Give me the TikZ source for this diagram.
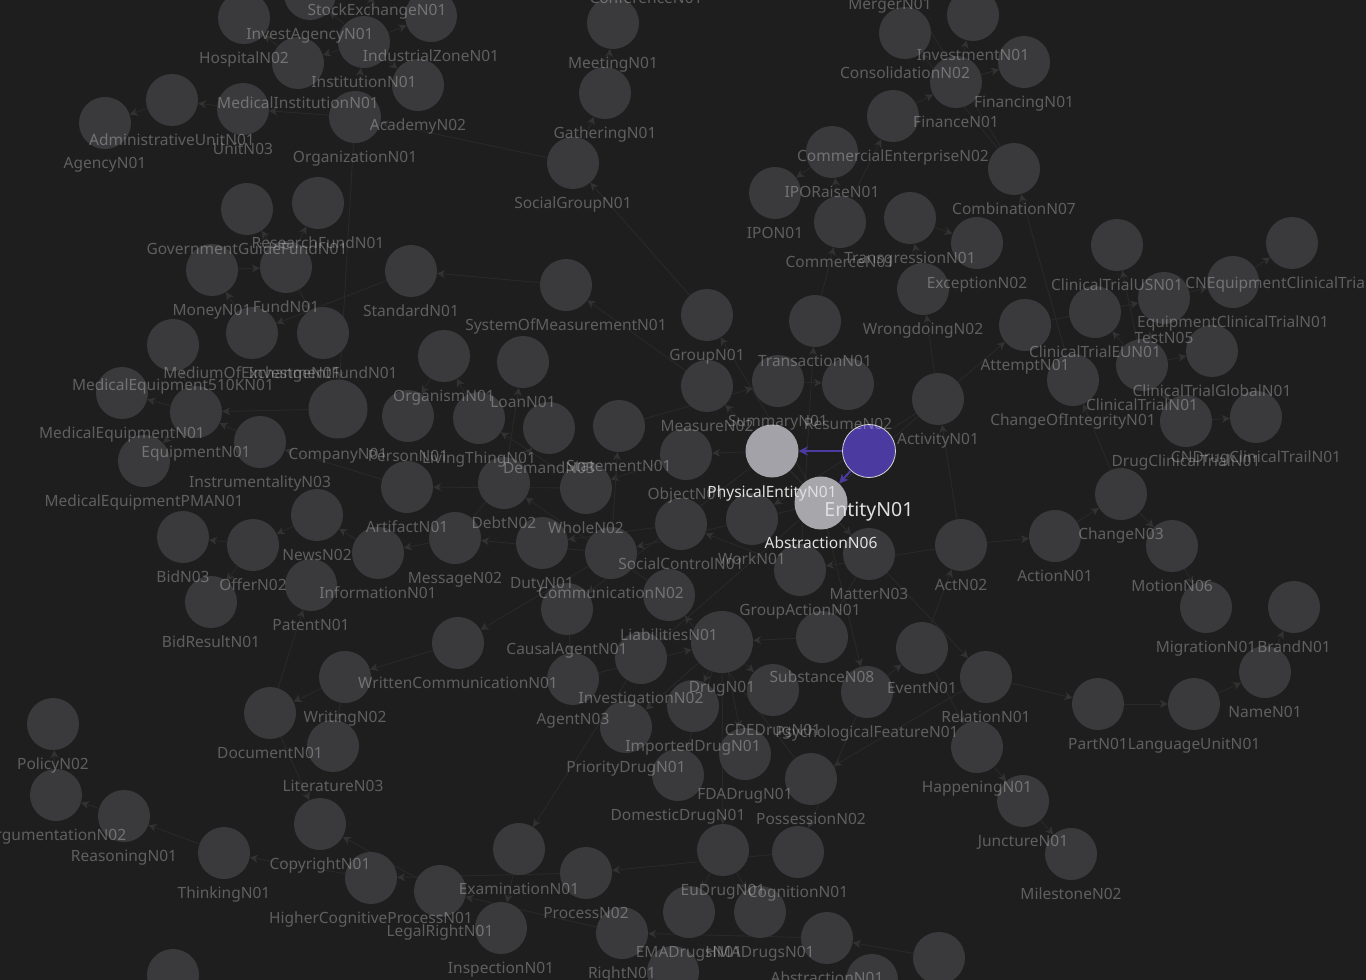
\documentclass[tikz,border=0pt]{standalone}
\usepackage{fontspec}
\setmainfont{Noto Sans}
\usetikzlibrary{arrows.meta}
\definecolor{bgdark}{HTML}{1E1E1E}
\definecolor{nodegray}{HTML}{3A3A3C}
\definecolor{edgegray}{HTML}{292929}
\definecolor{tipgray}{HTML}{323232}
\definecolor{entpurple}{HTML}{4B3A9F}
\definecolor{hilite}{HTML}{A2A2A8}
\pgfdeclarelayer{bglayer}
\pgfdeclarelayer{edgelayer}
\pgfsetlayers{bglayer,edgelayer,main}
\tikzset{
  topic/.style={circle, fill=nodegray, minimum size=52pt, inner sep=0pt},
  bigtopic/.style={topic, minimum size=62pt},
  picked/.style={circle, fill=hilite, minimum size=53pt, inner sep=0pt},
  roottopic/.style={circle, fill=entpurple, draw=white!85!black, line width=0.8pt, minimum size=53pt, inner sep=0pt},
  tagtext/.style={text=white, text opacity=0.29, font=\fontsize{15.5}{18}\selectfont, inner sep=0pt, anchor=base},
  pickedtag/.style={tagtext, text=white!88!black, text opacity=1},
  roottag/.style={pickedtag, font=\fontsize{19.5}{22}\selectfont},
  link/.style={-{Stealth[length=8pt,width=8pt,inset=2.5pt,color=tipgray]}, draw=edgegray, line width=0.9pt},
  rootlink/.style={-{Stealth[length=9pt,width=9pt,inset=2.5pt]}, draw=entpurple, line width=2pt}
}
\begin{document}
\begin{tikzpicture}[x=1pt, y=-1pt]
  \useasboundingbox (0,0) rectangle (1366,980);
  \clip (0,0) rectangle (1366,980);
  \begin{pgfonlayer}{bglayer}
    \fill[bgdark] (0,0) rectangle (1366,980);
  \end{pgfonlayer}

  % organisations, top left
  \node[topic] (HospitalN02) at (244,18) {};
  \node[topic] (InvestAgencyN01) at (310,-6) {};
  \node[topic] (StockExchangeN01) at (377,-30) {};
  \node[topic] (IndustrialZoneN01) at (431,16) {};
  \node[topic] (InstitutionN01) at (364,42) {};
  \node[topic] (MedicalInstitutionN01) at (298,63) {};
  \node[topic] (AcademyN02) at (418,85) {};
  \node[topic] (AdministrativeUnitN01) at (172,100) {};
  \node[topic] (UnitN03) at (243,109) {};
  \node[topic] (AgencyN01) at (105,123) {};
  \node[topic] (OrganizationN01) at (355,117) {};
  \node[topic] (ConferenceN01) at (646,-42) {};
  \node[topic] (MeetingN01) at (613,23) {};
  \node[topic] (GatheringN01) at (605,93) {};
  \node[topic] (SocialGroupN01) at (573,163) {};
  % finance, top right
  \node[topic] (MergerN01) at (890,-36) {};
  \node[topic] (ConsolidationN02) at (905,33) {};
  \node[topic] (InvestmentN01) at (973,15) {};
  \node[topic] (FinancingN01) at (1024,62) {};
  \node[topic] (FinanceN01) at (956,82) {};
  \node[topic] (CommercialEnterpriseN02) at (893,116) {};
  \node[topic] (IPORaiseN01) at (832,152) {};
  \node[topic] (IPON01) at (775,193) {};
  \node[topic] (CommerceN01) at (840,222) {};
  \node[topic] (CombinationN07) at (1014,169) {};
  \node[topic] (TransgressionN01) at (910,218) {};
  \node[topic] (ExceptionN02) at (977,243) {};
  \node[topic] (WrongdoingN02) at (923,289) {};
  % trials
  \node[topic] (ClinicalTrialUSN01) at (1117,245) {};
  \node[topic] (CNEquipmentClinicalTrialN01) at (1292,243) {};
  \node[topic] (EquipmentClinicalTrialN01) at (1233,282) {};
  \node[topic] (TestN05) at (1164,298) {};
  \node[topic] (ClinicalTrialEUN01) at (1095,312) {};
  \node[topic] (AttemptN01) at (1025,325) {};
  \node[topic] (ClinicalTrialGlobalN01) at (1212,351) {};
  \node[topic] (ClinicalTrialN01) at (1142,365) {};
  \node[topic] (ChangeOfIntegrityN01) at (1073,380) {};
  \node[topic] (CNDrugClinicalTrailN01) at (1256,417) {};
  \node[topic] (DrugClinicalTrialN01) at (1186,421) {};
  \node[topic] (ActivityN01) at (938,399) {};
  % acts and events, right
  \node[topic] (ChangeN03) at (1121,494) {};
  \node[topic] (ActionN01) at (1055,536) {};
  \node[topic] (ActN02) at (961,545) {};
  \node[topic] (MotionN06) at (1172,546) {};
  \node[topic] (MigrationN01) at (1206,607) {};
  \node[topic] (BrandN01) at (1294,607) {};
  \node[topic] (NameN01) at (1265,672) {};
  \node[topic] (LanguageUnitN01) at (1194,704) {};
  \node[topic] (PartN01) at (1098,704) {};
  \node[topic] (RelationN01) at (986,677) {};
  \node[topic] (HappeningN01) at (977,747) {};
  \node[topic] (JunctureN01) at (1023,801) {};
  \node[topic] (MilestoneN02) at (1071,854) {};
  \node[topic] (EventN01) at (922,648) {};
  \node[topic] (PsychologicalFeatureN01) at (867,692) {};
  \node[topic] (GroupActionN01) at (800,570) {};
  \node[topic] (MatterN03) at (869,554) {};
  % drugs, bottom centre
  \node[topic] (SubstanceN08) at (822,637) {};
  \node[topic] (CDEDrugN01) at (773,690) {};
  \node[topic] (PossessionN02) at (811,779) {};
  \node[topic] (FDADrugN01) at (745,754) {};
  \node[bigtopic] (DrugN01) at (722,642) {};
  \node[topic] (DomesticDrugN01) at (678,775) {};
  \node[topic] (ImportedDrugN01) at (693,706) {};
  \node[topic] (InvestigationN02) at (641,658) {};
  \node[topic] (PriorityDrugN01) at (626,727) {};
  \node[topic] (AgentN03) at (573,679) {};
  \node[topic] (LiabilitiesN01) at (669,595) {};
  \node[topic] (CommunicationN02) at (611,553) {};
  \node[topic] (CausalAgentN01) at (567,609) {};
  \node[topic] (WrittenCommunicationN01) at (458,643) {};
  \node[topic] (WritingN02) at (345,677) {};
  \node[topic] (DocumentN01) at (270,713) {};
  \node[topic] (LiteratureN03) at (333,746) {};
  \node[topic] (CopyrightN01) at (320,824) {};
  \node[topic] (ThinkingN01) at (224,853) {};
  \node[topic] (ReasoningN01) at (124,816) {};
  \node[topic] (ArgumentationN02) at (56,795) {};
  \node[topic] (PolicyN02) at (53,724) {};
  \node[topic] (HigherCognitiveProcessN01) at (371,878) {};
  \node[topic] (LegalRightN01) at (440,891) {};
  \node[topic] (InspectionN01) at (501,928) {};
  \node[topic] (ExaminationN01) at (519,849) {};
  \node[topic] (ProcessN02) at (586,873) {};
  \node[topic] (RightN01) at (622,933) {};
  \node[topic] (EMADrugsN01) at (689,912) {};
  \node[topic] (EuDrugN01) at (723,850) {};
  \node[topic] (HMADrugsN01) at (760,912) {};
  \node[topic] (CognitionN01) at (798,852) {};
  \node[topic] (AbstractionN01) at (827,938) {};
  \node[topic] (cutA) at (173,975) {};
  \node[topic] (cutB) at (673,972) {};
  \node[topic] (cutC) at (872,980) {};
  \node[topic] (cutD) at (939,958) {};
  % money and equipment, left
  \node[topic] (GovernmentGuideFundN01) at (247,209) {};
  \node[topic] (ResearchFundN01) at (318,203) {};
  \node[topic] (MoneyN01) at (212,270) {};
  \node[topic] (FundN01) at (286,267) {};
  \node[topic] (StandardN01) at (411,271) {};
  \node[topic] (SystemOfMeasurementN01) at (566,285) {};
  \node[topic] (GroupN01) at (707,315) {};
  \node[topic] (TransactionN01) at (815,321) {};
  \node[topic] (MedicalEquipment510KN01) at (173,345) {};
  \node[topic] (MediumOfExchangeN01) at (252,333) {};
  \node[topic] (InvestmentFundN01) at (323,333) {};
  \node[topic] (MedicalEquipmentN01) at (122,393) {};
  \node[topic] (EquipmentN01) at (196,412) {};
  \node[topic] (InstrumentalityN03) at (260,442) {};
  \node[topic] (MedicalEquipmentPMAN01) at (144,461) {};
  \node[bigtopic, minimum size=59pt] (CompanyN01) at (338,409) {};
  \node[topic] (PersonN01) at (408,416) {};
  \node[topic] (OrganismN01) at (444,356) {};
  \node[topic] (LoanN01) at (523,362) {};
  \node[topic] (LivingThingN01) at (479,418) {};
  \node[topic] (DemandN03) at (549,428) {};
  \node[topic] (StatementN01) at (619,426) {};
  \node[topic] (ObjectN01) at (686,454) {};
  \node[topic] (MeasureN02) at (707,386) {};
  \node[topic] (SummaryN01) at (778,381) {};
  \node[topic] (ResumeN02) at (848,384) {};
  \node[topic] (ArtifactN01) at (407,487) {};
  \node[topic] (DebtN02) at (504,483) {};
  \node[topic] (WholeN02) at (586,488) {};
  \node[topic] (NewsN02) at (317,515) {};
  \node[topic] (BidN03) at (183,537) {};
  \node[topic] (OfferN02) at (253,545) {};
  \node[topic] (InformationN01) at (378,553) {};
  \node[topic] (MessageN02) at (455,538) {};
  \node[topic] (DutyN01) at (542,543) {};
  \node[topic] (SocialControlN01) at (681,524) {};
  \node[topic] (WorkN01) at (752,519) {};
  \node[topic] (PatentN01) at (311,585) {};
  \node[topic] (BidResultN01) at (211,602) {};
  % selected entity and its two children
  \node[picked] (PhysicalEntityN01) at (772,451) {};
  \node[picked, fill=hilite!96!white] (AbstractionN06) at (821,503) {};
  \node[roottopic] (EntityN01) at (869,451) {};

  % faint hierarchy links
  \begin{pgfonlayer}{edgelayer}
    \foreach \a/\b in {
      PhysicalEntityN01/ObjectN01, PhysicalEntityN01/MatterN03, PhysicalEntityN01/CausalAgentN01,
      ObjectN01/WholeN02, WholeN02/LivingThingN01, WholeN02/ArtifactN01,
      LivingThingN01/OrganismN01, OrganismN01/PersonN01, ArtifactN01/InstrumentalityN03,
      InstrumentalityN03/EquipmentN01, CompanyN01/EquipmentN01, EquipmentN01/MedicalEquipmentN01,
      EquipmentN01/MedicalEquipment510KN01, EquipmentN01/MedicalEquipmentPMAN01,
      MatterN03/SubstanceN08, SubstanceN08/DrugN01, CausalAgentN01/AgentN03, AgentN03/DrugN01,
      DrugN01/CDEDrugN01, DrugN01/FDADrugN01, DrugN01/DomesticDrugN01, DrugN01/ImportedDrugN01,
      DrugN01/PriorityDrugN01, DrugN01/EuDrugN01, EuDrugN01/EMADrugsN01, EuDrugN01/HMADrugsN01,
      AbstractionN06/GroupN01, AbstractionN06/MeasureN02, AbstractionN06/CommunicationN02,
      AbstractionN06/RelationN01, AbstractionN06/PsychologicalFeatureN01,
      GroupN01/SocialGroupN01, SocialGroupN01/GatheringN01, GatheringN01/MeetingN01,
      MeetingN01/ConferenceN01, SocialGroupN01/OrganizationN01, OrganizationN01/InstitutionN01,
      OrganizationN01/UnitN03, OrganizationN01/CompanyN01, InstitutionN01/AcademyN02,
      InstitutionN01/MedicalInstitutionN01, MedicalInstitutionN01/HospitalN02,
      InstitutionN01/InvestAgencyN01, InstitutionN01/StockExchangeN01, InstitutionN01/IndustrialZoneN01,
      UnitN03/AdministrativeUnitN01, AdministrativeUnitN01/AgencyN01,
      MeasureN02/SystemOfMeasurementN01, SystemOfMeasurementN01/StandardN01,
      StandardN01/MediumOfExchangeN01, MediumOfExchangeN01/MoneyN01, MoneyN01/FundN01,
      FundN01/GovernmentGuideFundN01, FundN01/ResearchFundN01, FundN01/InvestmentFundN01,
      CommunicationN02/MessageN02, CommunicationN02/WrittenCommunicationN01,
      CommunicationN02/StatementN01, MessageN02/InformationN01, MessageN02/DemandN03,
      InformationN01/NewsN02, NewsN02/OfferN02, OfferN02/BidN03, OfferN02/BidResultN01,
      StatementN01/SummaryN01, SummaryN01/ResumeN02, WrittenCommunicationN01/WritingN02,
      WritingN02/DocumentN01, WritingN02/LiteratureN03, DocumentN01/PatentN01,
      DocumentN01/CopyrightN01, PossessionN02/LiabilitiesN01, LiabilitiesN01/DebtN02,
      DebtN02/LoanN01, RelationN01/PossessionN02, RelationN01/PartN01,
      PartN01/LanguageUnitN01, LanguageUnitN01/NameN01, NameN01/BrandN01,
      PsychologicalFeatureN01/EventN01, PsychologicalFeatureN01/CognitionN01,
      EventN01/ActN02, EventN01/HappeningN01, HappeningN01/JunctureN01, JunctureN01/MilestoneN02,
      ActN02/ActionN01, ActN02/ActivityN01, ActN02/GroupActionN01, ActionN01/ChangeN03,
      ChangeN03/MotionN06, MotionN06/MigrationN01, ChangeN03/ChangeOfIntegrityN01,
      ChangeOfIntegrityN01/CombinationN07, CombinationN07/MergerN01, CombinationN07/ConsolidationN02,
      ActivityN01/AttemptN01, ActivityN01/WrongdoingN02, ActivityN01/WorkN01,
      ActivityN01/InvestigationN02, WrongdoingN02/TransgressionN01, TransgressionN01/ExceptionN02,
      InvestigationN02/ExaminationN01, ExaminationN01/InspectionN01, AttemptN01/TestN05,
      TestN05/ClinicalTrialN01, ClinicalTrialN01/ClinicalTrialUSN01, ClinicalTrialN01/ClinicalTrialEUN01,
      ClinicalTrialN01/ClinicalTrialGlobalN01, ClinicalTrialN01/DrugClinicalTrialN01,
      TestN05/EquipmentClinicalTrialN01, EquipmentClinicalTrialN01/CNEquipmentClinicalTrialN01,
      DrugClinicalTrialN01/CNDrugClinicalTrailN01, GroupActionN01/SocialControlN01,
      GroupActionN01/TransactionN01, TransactionN01/CommerceN01, CommerceN01/IPORaiseN01,
      IPORaiseN01/IPON01, CommerceN01/CommercialEnterpriseN02, CommercialEnterpriseN02/FinanceN01,
      FinanceN01/InvestmentN01, FinanceN01/FinancingN01, SocialControlN01/DutyN01,
      CognitionN01/ProcessN02, ProcessN02/HigherCognitiveProcessN01,
      HigherCognitiveProcessN01/ThinkingN01, ThinkingN01/ReasoningN01,
      ReasoningN01/ArgumentationN02, ArgumentationN02/PolicyN02, AbstractionN01/RightN01,
      RightN01/LegalRightN01, LegalRightN01/CopyrightN01, cutD/AbstractionN01}
      \draw[link] (\a) -- (\b);
  \end{pgfonlayer}

  % labels on top of the circles
  \foreach \n in {HospitalN02, InvestAgencyN01, StockExchangeN01, IndustrialZoneN01, InstitutionN01,
      MedicalInstitutionN01, AcademyN02, AdministrativeUnitN01, UnitN03, AgencyN01, OrganizationN01,
      ConferenceN01, MeetingN01, GatheringN01, SocialGroupN01, MergerN01, ConsolidationN02,
      InvestmentN01, FinancingN01, FinanceN01, CommercialEnterpriseN02, IPORaiseN01, IPON01,
      CommerceN01, CombinationN07, TransgressionN01, ExceptionN02, WrongdoingN02, ClinicalTrialUSN01,
      CNEquipmentClinicalTrialN01, EquipmentClinicalTrialN01, TestN05, ClinicalTrialEUN01, AttemptN01,
      ClinicalTrialGlobalN01, ClinicalTrialN01, ChangeOfIntegrityN01, CNDrugClinicalTrailN01,
      DrugClinicalTrialN01, ActivityN01, ChangeN03, ActionN01, ActN02, MotionN06, MigrationN01,
      BrandN01, NameN01, LanguageUnitN01, PartN01, RelationN01, HappeningN01, JunctureN01,
      MilestoneN02, EventN01, PsychologicalFeatureN01, GroupActionN01, MatterN03, SubstanceN08,
      CDEDrugN01, PossessionN02, FDADrugN01, DomesticDrugN01, ImportedDrugN01, InvestigationN02,
      PriorityDrugN01, AgentN03, LiabilitiesN01, CommunicationN02, CausalAgentN01,
      WrittenCommunicationN01, WritingN02, DocumentN01, LiteratureN03, CopyrightN01, ThinkingN01,
      ReasoningN01, ArgumentationN02, PolicyN02, HigherCognitiveProcessN01, LegalRightN01,
      InspectionN01, ExaminationN01, ProcessN02, RightN01, EMADrugsN01, EuDrugN01, HMADrugsN01,
      CognitionN01, AbstractionN01, GovernmentGuideFundN01, ResearchFundN01, MoneyN01, FundN01,
      StandardN01, SystemOfMeasurementN01, GroupN01, TransactionN01, MedicalEquipment510KN01,
      MediumOfExchangeN01, InvestmentFundN01, MedicalEquipmentN01, EquipmentN01, InstrumentalityN03,
      MedicalEquipmentPMAN01, PersonN01, OrganismN01, LoanN01, LivingThingN01, DemandN03,
      StatementN01, ObjectN01, MeasureN02, SummaryN01, ResumeN02, ArtifactN01, DebtN02, WholeN02,
      NewsN02, BidN03, OfferN02, InformationN01, MessageN02, DutyN01, SocialControlN01, WorkN01,
      PatentN01, BidResultN01}
    \node[tagtext] (\n-tag) at ([yshift=-45pt]\n.center) {\n};
  \node[tagtext] (DrugN01-tag) at ([yshift=-50pt]DrugN01.center) {DrugN01};
  \node[tagtext] (CompanyN01-tag) at ([yshift=-50pt]CompanyN01.center) {CompanyN01};

  % selected links and labels
  \draw[rootlink] (EntityN01) -- (PhysicalEntityN01);
  \draw[rootlink] (EntityN01) -- (AbstractionN06);
  \node[pickedtag] (PhysicalEntityN01-tag) at ([yshift=-46pt]PhysicalEntityN01.center) {PhysicalEntityN01};
  \node[pickedtag] (AbstractionN06-tag) at ([yshift=-45pt]AbstractionN06.center) {AbstractionN06};
  \node[roottag] (EntityN01-tag) at ([yshift=-65pt]EntityN01.center) {EntityN01};
\end{tikzpicture}
\end{document}
